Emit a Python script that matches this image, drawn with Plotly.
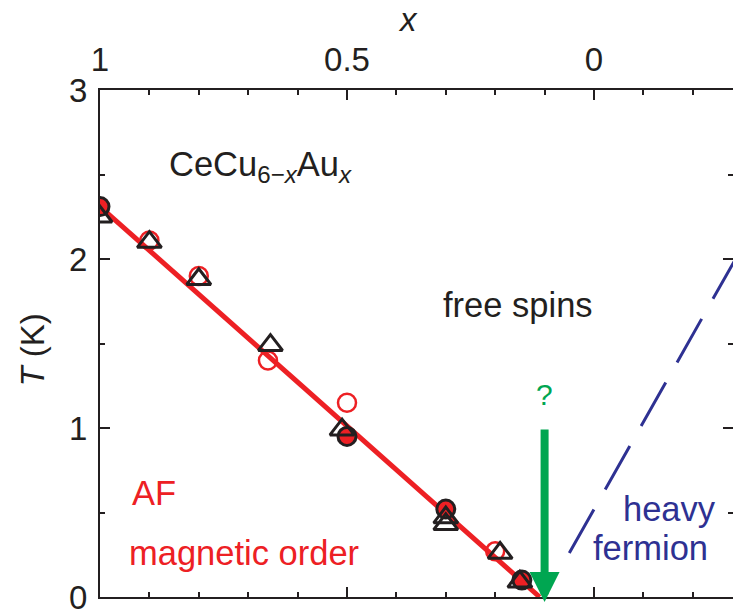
import plotly.graph_objects as go

# ---- data (x = Au content, T in K) ----
open_circ_x = [0.9, 0.8, 0.66, 0.5, 0.2]
open_circ_T = [2.11, 1.90, 1.40, 1.15, 0.27]

fill_circ_x = [1.0, 0.5, 0.3, 0.146]
fill_circ_T = [2.31, 0.95, 0.52, 0.10]

tri_x = [1.0, 0.9, 0.8, 0.655, 0.51, 0.3, 0.3, 0.19, 0.15]
tri_T = [2.25, 2.10, 1.88, 1.49, 0.99, 0.47, 0.43, 0.26, 0.09]

af_line_x = [1.0, 0.11]
af_line_T = [2.31, 0.0]

hf_line_x = [0.05, -0.30]
hf_line_T = [0.26, 2.07]

qcp_x = [0.1]
arrow_T = [1.0, -0.03]   # tail, tip

x_ticks = [1, 0.5, 0]
x_ticklabels = ["1", "0.5", "0"]
y_ticks = [0, 1, 2, 3]

BLK = "#231F20"
RED = "#ED2024"
GREEN = "#00A651"
BLUE = "#2E3192"
FONT = "Liberation Sans, Arial, sans-serif"

fig = go.Figure()

fig.add_trace(go.Scatter(x=af_line_x, y=af_line_T, mode="lines",
                         line=dict(color=RED, width=5), hoverinfo="skip"))
fig.add_trace(go.Scatter(x=hf_line_x, y=hf_line_T, mode="lines",
                         line=dict(color=BLUE, width=3, dash="50px,23px"), hoverinfo="skip"))
fig.add_trace(go.Scatter(x=open_circ_x, y=open_circ_T, mode="markers",
                         marker=dict(symbol="circle-open", size=18, color=RED,
                                     line=dict(color=RED, width=2.5))))
fig.add_trace(go.Scatter(x=fill_circ_x, y=fill_circ_T, mode="markers",
                         marker=dict(symbol="circle", size=18, color=RED,
                                     line=dict(color=BLK, width=3))))
fig.add_trace(go.Scatter(x=tri_x, y=tri_T, mode="markers",
                         marker=dict(symbol="triangle-up-open", size=21, color=BLK,
                                     line=dict(color=BLK, width=3))))
# invisible trace to carry the right-hand tick axis
fig.add_trace(go.Scatter(x=[None], y=[None], yaxis="y2", showlegend=False))

tick_common = dict(ticks="inside", ticklen=10, tickwidth=2, tickcolor=BLK,
                   showgrid=False, zeroline=False, automargin=False,
                   tickfont=dict(family=FONT, size=33, color=BLK))

fig.update_layout(
    width=733, height=610,
    margin=dict(l=100, r=0, t=90, b=13),
    paper_bgcolor="white", plot_bgcolor="white",
    showlegend=False,
    xaxis=dict(range=[1, -0.2814], side="top", showline=True, linewidth=2,
               linecolor=BLK, mirror="ticks",
               tickvals=x_ticks, ticktext=x_ticklabels,
               minor=dict(dtick=0.1, tick0=0, ticks="inside", ticklen=5,
                          tickwidth=2, tickcolor=BLK, showgrid=False),
               ticklabelstandoff=4, ticklabeloverflow="allow",
               **tick_common),
    yaxis=dict(range=[0, 3], showline=True, linewidth=2, linecolor=BLK,
               tickvals=y_ticks,
               minor=dict(dtick=0.5, tick0=0, ticks="inside", ticklen=5,
                          tickwidth=2, tickcolor=BLK, showgrid=False),
               ticklabelstandoff=4, ticklabeloverflow="allow",
               **tick_common),
    yaxis2=dict(range=[0, 3], overlaying="y", side="right", anchor="x",
                showline=False, showticklabels=False, tickvals=y_ticks,
                minor=dict(dtick=0.5, tick0=0, ticks="inside", ticklen=5,
                           tickwidth=2, tickcolor=BLK, showgrid=False),
                **tick_common),
)

def txt(s, x, y, color=BLK, size=34.5, xanchor="left", **kw):
    fig.add_annotation(text=s, x=x, y=y, showarrow=False, xanchor=xanchor,
                       yanchor="middle", font=dict(family=FONT, size=size, color=color), **kw)

txt("CeCu<sub>6−<i>x</i></sub>Au<sub><i>x</i></sub>", 0.858, 2.55, xshift=-3)
txt("free spins", 0.304, 1.73, xshift=-3)
txt("AF", 0.933, 0.614, color=RED, xshift=-3)
txt("magnetic order", 0.939, 0.26, color=RED, xshift=-3)
txt("heavy", -0.152, 0.52, color=BLUE, xanchor="center")
txt("fermion", -0.115, 0.29, color=BLUE, xanchor="center")
txt("?", qcp_x[0], 1.20, color=GREEN, size=30, xanchor="center")
txt("<i>x</i>", 0.377, 1.14, yref="paper", xanchor="center", size=33)
txt("<i>T</i> (K)", -0.107, 1.46, xref="paper", xanchor="center", textangle=-90, size=33)

# green arrow marking the quantum critical point
fig.add_annotation(x=qcp_x[0], y=arrow_T[1], ax=qcp_x[0], ay=arrow_T[0],
                   xref="x", yref="y", axref="x", ayref="y", text="",
                   showarrow=True, arrowhead=2, arrowsize=0.75, arrowwidth=8,
                   arrowcolor=GREEN)

post = (
    "document.documentElement.style.overflow='hidden';"
    "document.body.style.margin='0';"
    "document.body.style.overflow='hidden';"
    "var gd=document.getElementById('{plot_id}');"
    "gd.style.overflow='hidden';"
)

fig.write_html("out.html", config={"displayModeBar": False}, post_script=post)
